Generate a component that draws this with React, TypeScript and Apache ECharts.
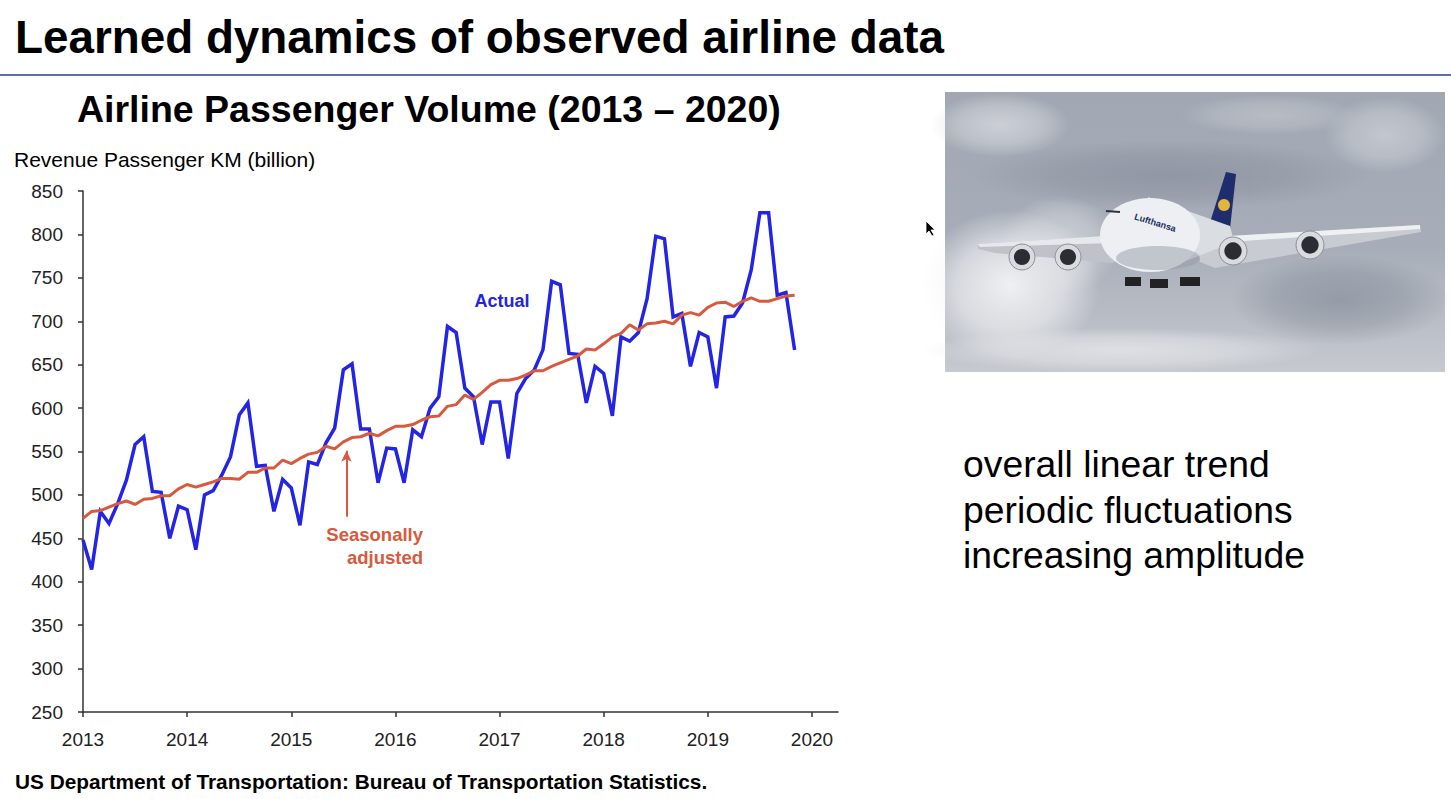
import React, { useEffect, useRef } from "react";
import * as echarts from "echarts";

const FONT = "'Liberation Sans', Arial, Helvetica, sans-serif";

const startYear = 2013;
const xTicks = [2013, 2014, 2015, 2016, 2017, 2018, 2019, 2020];

// Monthly values, Jan 2013 .. Nov 2019 (billion revenue passenger km)
const actual2013 = [448, 414, 481, 467, 490, 517, 558, 567, 504, 503, 450, 487];
const actual2014 = [483, 437, 500, 505, 523, 544, 592, 606, 533, 534, 481, 518];
const actual2015 = [508, 465, 538, 535, 560, 577, 644, 651, 576, 576, 514, 554];
const actual2016 = [553, 514, 575, 567, 600, 613, 694, 687, 623, 613, 558, 607];
const actual2017 = [607, 542, 617, 634, 644, 667, 746, 742, 663, 662, 606, 648];
const actual2018 = [640, 591, 682, 677, 687, 726, 798, 795, 705, 709, 648, 687];
const actual2019 = [682, 623, 705, 706, 721, 759, 825, 825, 730, 733, 667];

const adj2013 = [473, 481, 482, 486, 490, 493, 489, 495, 496, 499, 499, 507];
const adj2014 = [512, 509, 512, 515, 519, 519, 518, 526, 526, 531, 531, 540];
const adj2015 = [536, 542, 547, 549, 556, 553, 561, 566, 567, 571, 568, 574];
const adj2016 = [579, 579, 581, 586, 590, 591, 602, 604, 615, 610, 618, 627];
const adj2017 = [632, 632, 634, 638, 643, 643, 648, 652, 656, 660, 668, 667];
const adj2018 = [674, 682, 686, 696, 690, 697, 698, 700, 697, 707, 710, 707];
const adj2019 = [716, 721, 722, 717, 723, 727, 723, 723, 726, 729, 730];

const actualValues = [
  ...actual2013, ...actual2014, ...actual2015, ...actual2016,
  ...actual2017, ...actual2018, ...actual2019,
];
const adjustedValues = [
  ...adj2013, ...adj2014, ...adj2015, ...adj2016,
  ...adj2017, ...adj2018, ...adj2019,
];

const toPairs = (vals: number[]) => vals.map((v, i) => [startYear + i / 12, v]);

const BLUE = "#2424e4";
const RED = "#d85a3c";

function soft(r: number, g: number, b: number, a: number) {
  return new echarts.graphic.RadialGradient(0.5, 0.5, 0.5, [
    { offset: 0, color: `rgba(${r},${g},${b},${a})` },
    { offset: 0.6, color: `rgba(${r},${g},${b},${a * 0.6})` },
    { offset: 1, color: `rgba(${r},${g},${b},0)` },
  ]);
}

function planeGraphics(): any[] {
  const g: any[] = [];
  // sky
  g.push({
    type: "rect",
    shape: { x: 945, y: 92, width: 500, height: 280 },
    style: {
      fill: new echarts.graphic.LinearGradient(0, 0, 0, 1, [
        { offset: 0, color: "#a2a8b3" },
        { offset: 0.55, color: "#a7adb8" },
        { offset: 1, color: "#c6c9cf" },
      ]),
    },
    silent: true,
  });
  const clouds: [number, number, number, number, number[]][] = [
    [1010, 285, 90, 75, [242, 243, 245, 0.95]],
    [1060, 245, 60, 50, [230, 232, 235, 0.6]],
    [1120, 350, 200, 22, [226, 228, 232, 0.85]],
    [1000, 125, 70, 32, [214, 217, 222, 0.8]],
    [1170, 175, 200, 35, [128, 135, 149, 0.55]],
    [1340, 300, 110, 45, [124, 131, 145, 0.55]],
    [1385, 135, 60, 38, [208, 212, 218, 0.7]],
    [1270, 115, 90, 20, [196, 200, 207, 0.6]],
  ];
  clouds.forEach(([cx, cy, rx, ry, c]) =>
    g.push({
      type: "ellipse",
      shape: { cx, cy, rx, ry },
      style: { fill: soft(c[0], c[1], c[2], c[3]) },
      silent: true,
    })
  );
  // wings
  g.push({
    type: "polygon",
    shape: { points: [[978, 244], [1105, 236], [1125, 257], [1112, 263], [995, 253], [978, 249]] },
    style: { fill: "#bfc3c9" },
  });
  g.push({
    type: "polygon",
    shape: { points: [[978, 244], [1105, 236], [1110, 243], [980, 247]] },
    style: { fill: "#e6e8eb" },
  });
  g.push({
    type: "polygon",
    shape: { points: [[1195, 238], [1420, 225], [1421, 232], [1215, 268], [1200, 262]] },
    style: { fill: "#c8cbd1" },
  });
  g.push({
    type: "polygon",
    shape: { points: [[1195, 238], [1420, 225], [1420, 229], [1200, 244]] },
    style: { fill: "#eef0f2" },
  });
  // tail
  g.push({
    type: "polygon",
    shape: { points: [[1205, 238], [1226, 172], [1236, 174], [1229, 238]] },
    style: { fill: "#1f2d6e" },
  });
  g.push({ type: "circle", shape: { cx: 1224, cy: 205, r: 6 }, style: { fill: "#e2b53c" } });
  // fuselage
  g.push({
    type: "polygon",
    shape: { points: [[1148, 197], [1230, 226], [1234, 242], [1158, 272]] },
    style: { fill: "#dadde2" },
  });
  g.push({ type: "ellipse", shape: { cx: 1150, cy: 235, rx: 50, ry: 37 }, style: { fill: "#edeff2" } });
  g.push({
    type: "ellipse",
    shape: { cx: 1158, cy: 258, rx: 42, ry: 12 },
    style: { fill: "rgba(150,156,166,0.5)" },
  });
  g.push({
    type: "line",
    shape: { x1: 1106, y1: 211, x2: 1120, y2: 212 },
    style: { stroke: "#333", lineWidth: 2 },
  });
  g.push({
    type: "text",
    x: 1136,
    y: 212,
    rotation: -0.3,
    style: { text: "Lufthansa", fontSize: 9, fontFamily: FONT, fill: "#23305f", fontWeight: "bold" },
  });
  // engines
  const engines = [
    [1022, 257, 13],
    [1068, 257, 13],
    [1233, 251, 14],
    [1310, 245, 14],
  ];
  engines.forEach(([cx, cy, r]) => {
    g.push({ type: "circle", shape: { cx, cy, r }, style: { fill: "#d9dbdf", stroke: "#8a8f98", lineWidth: 1 } });
    g.push({ type: "circle", shape: { cx, cy, r: r * 0.62 }, style: { fill: "#2a2d33" } });
  });
  // landing gear
  [[1125, 277, 16, 9], [1150, 279, 18, 9], [1180, 277, 20, 9]].forEach(([x, y, w, h]) =>
    g.push({ type: "rect", shape: { x, y, width: w, height: h }, style: { fill: "#222" } })
  );
  // mouse cursor
  g.push({
    type: "polygon",
    shape: { points: [[926, 221], [926, 234], [929, 231], [932, 236], [934, 235], [931, 230], [935, 230]] },
    style: { fill: "#000", stroke: "#fff", lineWidth: 0.8 },
  });
  return g;
}

export default function App() {
  const ref = useRef<HTMLDivElement>(null);

  useEffect(() => {
    if (!ref.current) return;
    const chart = echarts.init(ref.current, undefined, { renderer: "svg" });
    const text = (x: number, y: number, s: string, size: number, opts: any = {}) => ({
      type: "text",
      x,
      y,
      z: 10,
      style: {
        text: s,
        fontSize: size,
        fontFamily: FONT,
        fill: opts.fill || "#000",
        fontWeight: opts.bold ? "bold" : "normal",
        align: opts.align || "left",
        verticalAlign: "middle",
      },
    });

    chart.setOption({
      animation: false,
      backgroundColor: "#ffffff",
      grid: { left: 83, right: 613, top: 191, bottom: 87, containLabel: false },
      xAxis: {
        type: "value",
        min: 2013,
        max: 2020.25,
        interval: 1,
        splitLine: { show: false },
        axisLine: { show: true, lineStyle: { color: "#333", width: 1.5 } },
        axisTick: { show: true, length: 5, customValues: xTicks, lineStyle: { color: "#333", width: 1.5 } },
        axisLabel: {
          customValues: xTicks,
          formatter: (v: number) => String(Math.round(v)),
          fontSize: 19,
          fontFamily: FONT,
          color: "#222",
          margin: 18,
        },
      },
      yAxis: {
        type: "value",
        min: 250,
        max: 850,
        interval: 50,
        splitLine: { show: false },
        axisLine: { show: true, lineStyle: { color: "#333", width: 1.5 } },
        axisTick: { show: true, length: 5, lineStyle: { color: "#333", width: 1.5 } },
        axisLabel: { fontSize: 19, fontFamily: FONT, color: "#222", margin: 20 },
      },
      series: [
        {
          name: "Actual",
          type: "line",
          data: toPairs(actualValues),
          showSymbol: false,
          lineStyle: { color: BLUE, width: 3.5, join: "miter" },
          itemStyle: { color: BLUE },
          z: 2,
        },
        {
          name: "Seasonally adjusted",
          type: "line",
          data: toPairs(adjustedValues),
          showSymbol: false,
          lineStyle: { color: RED, width: 3 },
          itemStyle: { color: RED },
          z: 3,
          markLine: {
            silent: true,
            symbol: ["none", "arrow"],
            symbolSize: [8, 11],
            label: { show: false },
            lineStyle: { color: RED, width: 2, type: "solid" },
            data: [[{ coord: [2015.53, 475] }, { coord: [2015.53, 551] }]],
          },
        },
      ],
      graphic: [
        text(15, 37, "Learned dynamics of observed airline data", 45.8, { bold: true }),
        {
          type: "line",
          shape: { x1: 0, y1: 75, x2: 1451, y2: 75 },
          style: { stroke: "#2b3a8c", lineWidth: 1.5 },
        },
        text(77, 109, "Airline Passenger Volume (2013 – 2020)", 37.5, { bold: true }),
        text(14, 159, "Revenue Passenger KM (billion)", 21),
        text(502, 301, "Actual", 18, { bold: true, fill: BLUE, align: "center" }),
        text(423, 534, "Seasonally", 18.5, { bold: true, fill: RED, align: "right" }),
        text(423, 557, "adjusted", 18.5, { bold: true, fill: RED, align: "right" }),
        text(15, 781, "US Department of Transportation: Bureau of Transportation Statistics.", 20.8, { bold: true }),
        ...planeGraphics(),
        text(963, 464, "overall linear trend", 37.3),
        text(963, 510, "periodic fluctuations", 37.3),
        text(963, 555, "increasing amplitude", 37.3),
      ],
    });
    return () => chart.dispose();
  }, []);

  return (
    <div
      ref={ref}
      style={{ position: "fixed", left: 0, top: 0, width: 1451, height: 799, background: "#fff" }}
    />
  );
}
